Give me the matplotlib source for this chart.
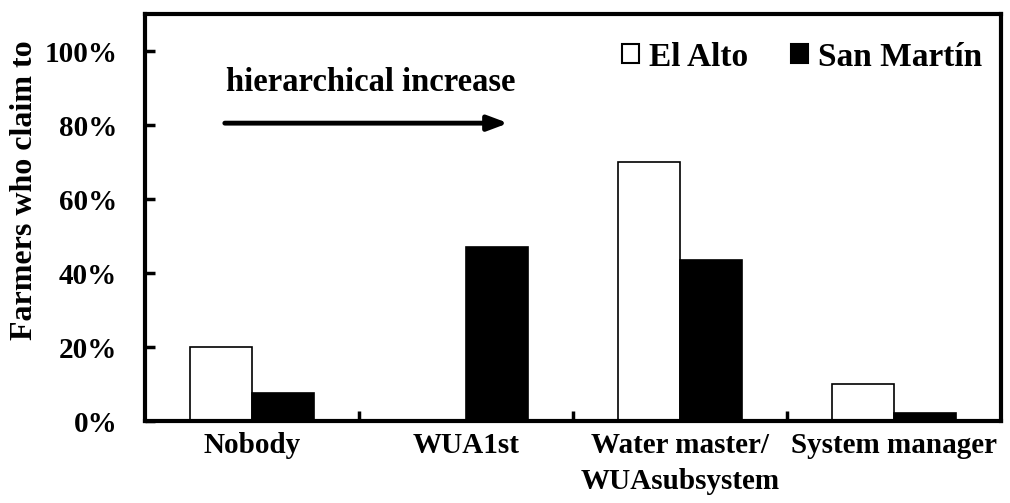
import matplotlib
matplotlib.use("Agg")
import matplotlib.pyplot as plt
import numpy as np
from matplotlib.patches import Patch

categories = ["Nobody", "WUA1st", "Water master/\nWUAsubsystem", "System manager"]
el_alto = [20, 0, 70, 10]
san_martin = [7.7, 47, 43.4, 2.2]
yticks = [0, 20, 40, 60, 80, 100]
ytick_labels = ["0%", "20%", "40%", "60%", "80%", "100%"]

plt.rcParams['font.family'] = ['Liberation Serif', 'DejaVu Serif']
plt.rcParams['font.weight'] = 'bold'

fig = plt.figure(figsize=(10.1, 5.03), dpi=100)
ax = fig.add_axes([145/1010, 1 - 421/503, (1001-145)/1010, (421-14)/503])

x = np.arange(len(categories))
w = 0.29
ax.bar(x - w/2, el_alto, w, color='white', edgecolor='black', linewidth=1.2, label='El Alto')
ax.bar(x + w/2, san_martin, w, color='black', edgecolor='black', linewidth=1.2, label='San Martín')

ax.set_xlim(-0.5, 3.5)
ax.set_ylim(0, 110)
for s in ax.spines.values():
    s.set_linewidth(3)

ax.set_yticks(yticks)
ax.set_yticklabels(ytick_labels, fontsize=21, fontweight='bold')
ax.tick_params(axis='y', direction='in', length=7, width=2.5, pad=20)

ax.set_xticks([0.5, 1.5, 2.5])
ax.set_xticklabels([])
ax.tick_params(axis='x', which='major', direction='in', length=7, width=2.5)
ax.set_xticks(x, minor=True)
ax.set_xticklabels(categories, minor=True, fontsize=21, fontweight='bold', linespacing=1.4)
ax.tick_params(axis='x', which='minor', length=0, pad=8)

fig.text(25/1010, 1 - 190/503, "Farmers who claim to", rotation=90, ha='center', va='center',
         fontsize=23, fontweight='bold')

ax.annotate("", xy=(1.21, 80.5), xytext=(-0.14, 80.5),
            arrowprops=dict(arrowstyle='-|>,head_length=1.2,head_width=0.45', color='black', lw=3.5))
ax.text(0.556, 91.5, "hierarchical increase", ha='center', va='center', fontsize=23.5, fontweight='bold')

handles = [Patch(facecolor='white', edgecolor='black', linewidth=1.5),
           Patch(facecolor='black', edgecolor='black', linewidth=1.5)]
ax.legend(handles, ['El Alto', 'San Martín'], ncol=2, frameon=False, loc='center right',
          bbox_to_anchor=(0.978, 0.894), borderaxespad=0, borderpad=0,
          handlelength=0.5, handleheight=0.5,
          handletextpad=0.3, columnspacing=1.3, prop={'weight': 'bold', 'size': 24})

fig.savefig("out.png", dpi=100)
